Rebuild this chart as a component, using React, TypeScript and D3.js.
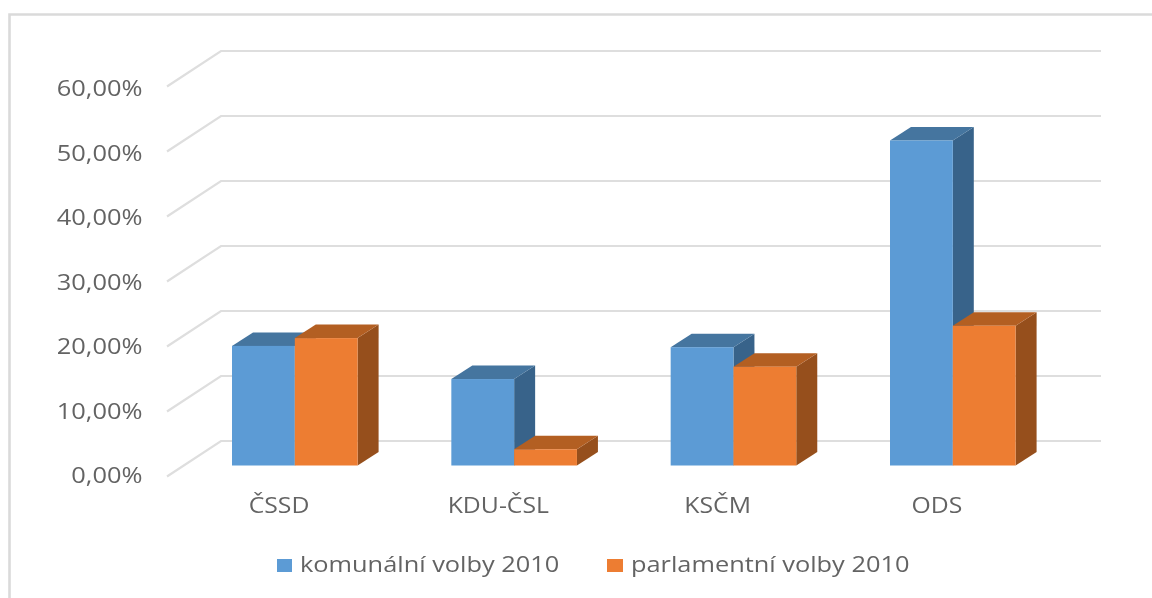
import React from "react";
import * as d3 from "d3";

const categories = ["ČSSD", "KDU-ČSL", "KSČM", "ODS"];
const komunalni = [18.4, 13.3, 18.2, 50.0];
const parlamentni = [19.6, 2.5, 15.2, 21.5];
const ticks = [0, 10, 20, 30, 40, 50, 60];
const tickLabels = ["0,00%", "10,00%", "20,00%", "30,00%", "40,00%", "50,00%", "60,00%"];
const seriesNames = ["komunální volby 2010", "parlamentní volby 2010"];

const W = 1152, H = 598;
const FONT = "'Open Sans', 'Noto Sans', sans-serif";
const TEXT = "#646464";
const GRID = "#dedede";

const colors = [
  { front: "#5b9bd5", top: "#44749f", side: "#39648a" },
  { front: "#ed7d31", top: "#b35e22", side: "#96501c" },
];

const yBack = d3.scaleLinear().domain([0, 60]).range([441, 51]);
const yBar = d3.scaleLinear().domain([0, 60]).range([465.5, 75.5]);
const yLabel = d3.scaleLinear().domain([0, 60]).range([483, 96]);
const xStart = d3.scaleLinear().domain([0, 3]).range([232, 890]);

const BACK_X0 = 221, BACK_X1 = 1101, FRONT_X = 167, FRONT_DY = 35.5;
const DX = 21, DY = 13.5;
const BW = 62.8;

function Bar({ x, w, v, c }: { x: number; w: number; v: number; c: typeof colors[0] }) {
  const yt = yBar(v), yb = yBar(0);
  return (
    <g>
      <polygon fill={c.side} points={`${x + w},${yt} ${x + w + DX},${yt - DY} ${x + w + DX},${yb - DY} ${x + w},${yb}`} />
      <polygon fill={c.top} points={`${x},${yt} ${x + DX},${yt - DY} ${x + w + DX},${yt - DY} ${x + w},${yt}`} />
      <rect x={x} y={yt} width={w} height={yb - yt} fill={c.front} />
    </g>
  );
}

function Label({ x, y, size, sx, anchor, children }: { x: number; y: number; size: number; sx: number; anchor: string; children: string }) {
  return (
    <text transform={`translate(${x},${y}) scale(${sx},1)`} textAnchor={anchor} fontFamily={FONT} fontSize={size} fill={TEXT}>
      {children}
    </text>
  );
}

export default function App() {
  return (
    <svg width={W} height={H} viewBox={`0 0 ${W} ${H}`} style={{ position: "fixed", left: 0, top: 0, background: "#fff" }}>
      <defs>
        <filter id="soft" x="-5%" y="-5%" width="110%" height="110%">
          <feGaussianBlur stdDeviation="0.55" />
        </filter>
      </defs>
      <g filter="url(#soft)">
        <path d={`M9.5 ${H + 10} V14.5 H${W + 10}`} fill="none" stroke="#dadada" strokeWidth={2.6} />
        {ticks.map((t) => (
          <path key={t} fill="none" stroke={GRID} strokeWidth={2.2}
            d={`M${FRONT_X} ${yBack(t) + FRONT_DY} L${BACK_X0} ${yBack(t)} H${BACK_X1}`} />
        ))}
        {ticks.map((t, i) => (
          <Label key={t} x={142.5} y={yLabel(t)} size={22.5} sx={1.13} anchor="end">{tickLabels[i]}</Label>
        ))}
        {categories.map((c, i) => (
          <g key={c}>
            <Bar x={xStart(i)} w={BW} v={komunalni[i]} c={colors[0]} />
            <Bar x={xStart(i) + BW} w={BW} v={parlamentni[i]} c={colors[1]} />
          </g>
        ))}
        {categories.map((c, i) => (
          <Label key={c} x={xStart(i) + 47} y={513} size={21} sx={1.18} anchor="middle">{c}</Label>
        ))}
        <rect x={277} y={559} width={15} height={13} fill={colors[0].front} />
        <Label x={300} y={572} size={21.5} sx={1.18} anchor="start">{seriesNames[0]}</Label>
        <rect x={607} y={559} width={16} height={13} fill={colors[1].front} />
        <Label x={631} y={572} size={21.5} sx={1.18} anchor="start">{seriesNames[1]}</Label>
      </g>
    </svg>
  );
}
